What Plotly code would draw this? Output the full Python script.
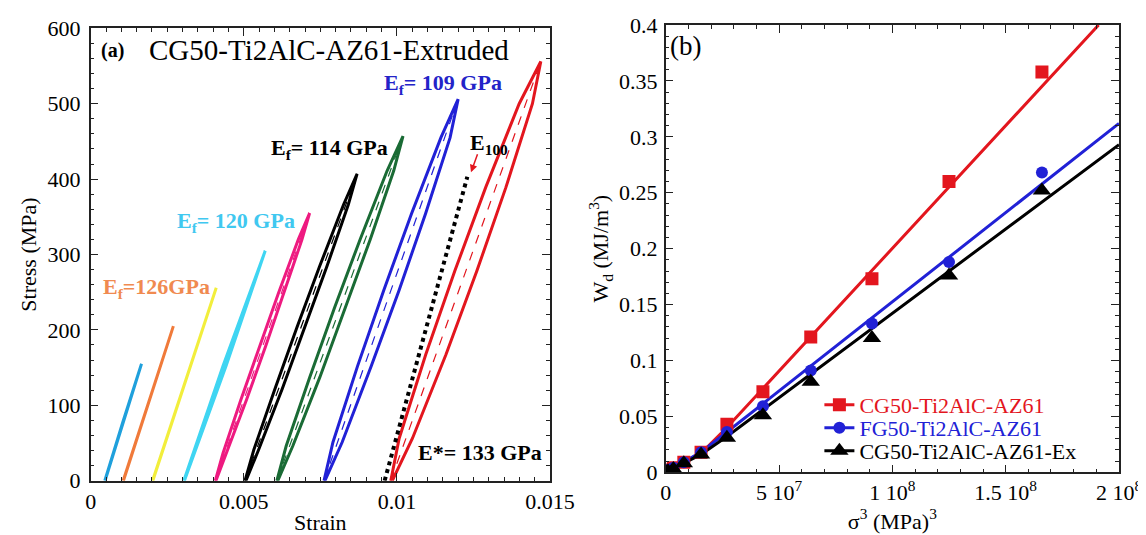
import plotly.graph_objects as go

# ---------------- Panel (a): cyclic stress-strain loops ----------------
loop_colors = ["#1fa0dc", "#f07a3a", "#f2ee3c", "#3fd5f2", "#ee1a80",
               "#000000", "#1a6b35", "#2121d6", "#e3161e"]

stress_1 = [0, 78, 155]
load_1 = [0.00046, 0.00105, 0.00166]
unload_1 = [0.00166, 0.00107, 0.00047]

stress_2 = [0, 102, 205]
load_2 = [0.00106, 0.00187, 0.0027]
unload_2 = [0.0027, 0.00189, 0.00107]

stress_3 = [0, 128, 256]
load_3 = [0.00202, 0.00305, 0.0041]
unload_3 = [0.0041, 0.00307, 0.00203]

stress_4 = [0, 152, 305]
load_4 = [0.00304, 0.00432, 0.0057]
unload_4 = [0.0057, 0.00442, 0.00306]

stress_5 = [0, 36, 107, 178, 249, 320, 355]
load_5 = [0.00407, 0.004318, 0.004902, 0.00551, 0.006134, 0.006782, 0.00715]
unload_5 = [0.00715, 0.006902, 0.006318, 0.00571, 0.005086, 0.004438, 0.00409]

stress_6 = [0, 41, 122, 204, 285, 366, 407]
load_6 = [0.00504, 0.005328, 0.006019, 0.00674, 0.007483, 0.008256, 0.0087]
unload_6 = [0.0087, 0.008412, 0.007721, 0.007, 0.006257, 0.005484, 0.00507]

stress_7 = [0, 46, 137, 229, 320, 411, 457]
load_7 = [0.00608, 0.006384, 0.007151, 0.00796, 0.008799, 0.00968, 0.0102]
unload_7 = [0.0102, 0.009896, 0.009129, 0.00832, 0.007481, 0.0066, 0.00611]

stress_8 = [0, 51, 152, 253, 354, 455, 506]
load_8 = [0.00762, 0.007912, 0.008715, 0.009575, 0.010477, 0.011437, 0.0120]
unload_8 = [0.0120, 0.011737, 0.010935, 0.010075, 0.009163, 0.008212, 0.00765]

stress_9 = [0, 56, 167, 278, 389, 500, 556]
load_9 = [0.0098, 0.010074, 0.01094, 0.01189, 0.0129, 0.013994, 0.0147]
unload_9 = [0.0147, 0.014426, 0.01356, 0.01261, 0.0116, 0.010506, 0.00985]

loops = [(stress_1, load_1, unload_1), (stress_2, load_2, unload_2),
         (stress_3, load_3, unload_3), (stress_4, load_4, unload_4),
         (stress_5, load_5, unload_5), (stress_6, load_6, unload_6),
         (stress_7, load_7, unload_7), (stress_8, load_8, unload_8),
         (stress_9, load_9, unload_9)]

# E100 dotted line
e100_strain = [0.0096, 0.0123]
e100_stress = [0, 403]

# ---------------- Panel (b): dissipated energy vs sigma^3 ----------------
sig3_cg = [1.25e5, 1.0e6, 3.4e6, 8.0e6, 1.56e7, 2.7e7, 4.29e7, 6.4e7, 9.1e7, 1.25e8, 1.66e8]
wd_cg = [0.0, 0.002, 0.004, 0.009, 0.018, 0.043, 0.072, 0.121, 0.173, 0.260, 0.358]
sig3_fg = [1.25e5, 1.0e6, 3.4e6, 8.0e6, 1.56e7, 2.7e7, 4.29e7, 6.4e7, 9.1e7, 1.25e8, 1.66e8]
wd_fg = [0.0, 0.002, 0.004, 0.009, 0.018, 0.036, 0.059, 0.091, 0.133, 0.188, 0.268]
sig3_ex = [1.25e5, 1.0e6, 3.4e6, 8.0e6, 1.56e7, 2.7e7, 4.29e7, 6.4e7, 9.1e7, 1.25e8, 1.66e8]
wd_ex = [0.0, 0.001, 0.003, 0.008, 0.016, 0.031, 0.051, 0.081, 0.120, 0.176, 0.252]

fit_cg_x = [0, 1.56e7, 2.7e7, 1.91e8]
fit_cg_y = [0, 0.017, 0.040, 0.400]
fit_fg_x = [0, 1.56e7, 2.7e7, 2.0e8]
fit_fg_y = [0, 0.018, 0.036, 0.312]
fit_ex_x = [0, 1.56e7, 2.7e7, 2.0e8]
fit_ex_y = [0, 0.016, 0.032, 0.293]

x1_tickvals = [0, 0.005, 0.01, 0.015]
x1_ticktext = ["0", "0.005", "0.01", "0.015"]
x2_tickvals = [0, 5e7, 1e8, 1.5e8, 2e8]
x2_ticktext = ["0", "5 10<sup>7</sup>", "1 10<sup>8</sup>", "1.5 10<sup>8</sup>", "2 10<sup>8</sup>"]
y2_tickvals = [0, 0.05, 0.1, 0.15, 0.2, 0.25, 0.3, 0.35, 0.4]
y2_ticktext = ["0", "0.05", "0.1", "0.15", "0.2", "0.25", "0.3", "0.35", "0.4"]

FONT = "Liberation Serif, Times New Roman, serif"
fig = go.Figure()

for i, (s, ld, ul) in enumerate(loops):
    c = loop_colors[i]
    fig.add_trace(go.Scatter(x=ld + ul[1:], y=s + s[::-1][1:], mode="lines",
                             line=dict(color=c, width=3),
                             xaxis="x", yaxis="y", showlegend=False, hoverinfo="skip"))
    if i >= 4:
        fig.add_trace(go.Scatter(x=[ld[0], ld[-1]], y=[s[0], s[-1]], mode="lines",
                                 line=dict(color=c, width=1.2, dash="dash"),
                                 xaxis="x", yaxis="y", showlegend=False, hoverinfo="skip"))

fig.add_trace(go.Scatter(x=e100_strain, y=e100_stress, mode="lines",
                         line=dict(color="black", width=4, dash="dot"),
                         xaxis="x", yaxis="y", showlegend=False))

# Panel b
series = [
    ("CG50-Ti2AlC-AZ61", "#e3161e", "square", 13, sig3_cg, wd_cg, fit_cg_x, fit_cg_y, "legend"),
    ("FG50-Ti2AlC-AZ61", "#2121d6", "circle", 12, sig3_fg, wd_fg, fit_fg_x, fit_fg_y, "legend2"),
    ("CG50-Ti2AlC-AZ61-Ex", "#000000", "triangle-up", 16, sig3_ex, wd_ex, fit_ex_x, fit_ex_y, "legend3"),
]
for name, c, sym, sz, xs, ys, fx, fy, lg in series:
    fig.add_trace(go.Scatter(x=fx, y=fy, mode="lines", line=dict(color=c, width=3),
                             xaxis="x2", yaxis="y2", showlegend=False))
for name, c, sym, sz, xs, ys, fx, fy, lg in series:
    fig.add_trace(go.Scatter(x=xs, y=ys, mode="markers",
                             marker=dict(color=c, symbol=sym, size=sz),
                             xaxis="x2", yaxis="y2", showlegend=False))
for name, c, sym, sz, xs, ys, fx, fy, lg in series:
    fig.add_trace(go.Scatter(x=[None], y=[None], mode="lines+markers",
                             line=dict(color=c, width=3),
                             marker=dict(color=c, symbol=sym, size=sz),
                             name='<span style="color:%s">%s</span>' % (c, name),
                             legend=lg, xaxis="x2", yaxis="y2", showlegend=True))

axis_common = dict(showline=True, linecolor="#222", linewidth=1.5, mirror="allticks",
                   ticks="inside", ticklen=8, tickwidth=1.2, tickcolor="#222",
                   showgrid=False, zeroline=False, automargin=False,
                   tickfont=dict(family=FONT, size=22, color="black"))

W, H = 1138, 527  # page body has an 8px margin inside the 1146x535 window

def leg(yc):
    return dict(x=0.713, y=yc, xanchor="left", yanchor="middle",
                bgcolor="rgba(0,0,0,0)", font=dict(family=FONT, size=22),
                itemwidth=30)

fig.update_layout(
    width=W, height=H, margin=dict(l=0, r=0, t=0, b=0),
    paper_bgcolor="white", plot_bgcolor="white",
    font=dict(family=FONT, color="black"),
    xaxis=dict(domain=[0.07267, 0.47627], range=[0, 0.015], anchor="y",
               tickvals=x1_tickvals, ticktext=x1_ticktext,
               minor=dict(dtick=0.0005, ticklen=4, ticks="inside", tickcolor="#222"),
               title=dict(text="Strain", font=dict(family=FONT, size=22), standoff=2),
               **axis_common),
    yaxis=dict(domain=[0.10304, 0.96148], range=[0, 600], anchor="x", dtick=100,
               minor=dict(dtick=20, ticklen=4, ticks="inside", tickcolor="#222"),
               title=dict(text="Stress (MPa)", font=dict(family=FONT, size=22), standoff=5),
               ticklabelstandoff=4,
               **axis_common),
    xaxis2=dict(domain=[0.57794, 0.97627], range=[0, 2e8], anchor="y2",
                tickvals=x2_tickvals, ticktext=x2_ticktext,
                minor=dict(dtick=1e7, ticklen=4, ticks="inside", tickcolor="#222"),
                title=dict(text="σ<sup>3</sup> (MPa)<sup>3</sup>", font=dict(family=FONT, size=22), standoff=2),
                **axis_common),
    yaxis2=dict(domain=[0.11898, 0.96774], range=[0, 0.4], anchor="x2",
                tickvals=y2_tickvals, ticktext=y2_ticktext,
                minor=dict(dtick=0.01, ticklen=4, ticks="inside", tickcolor="#222"),
                title=dict(text="W<sub>d</sub> (MJ/m<sup>3</sup>)", font=dict(family=FONT, size=22), standoff=4),
                ticklabelstandoff=2,
                **axis_common),
    legend=leg(0.2467), legend2=leg(0.2030), legend3=leg(0.1594),
)

ann = []
def A(text, x, y, color="black", size=21, bold=True, xref="x", yref="y", xanchor="left"):
    t = "<b>%s</b>" % text if bold else text
    ann.append(dict(text=t, x=x, y=y, xref=xref, yref=yref, showarrow=False,
                    xanchor=xanchor, yanchor="middle",
                    font=dict(family=FONT, size=size, color=color)))

A("(a)", 0.00027, 571, size=20)
A("CG50-Ti2AlC-AZ61-Extruded", 0.00184, 571, size=29, bold=False)
A("E<sub>f</sub>= 109 GPa", 0.00951, 526, color="#2323c8", size=22)
A("E<sub>f</sub>= 114 GPa", 0.00582, 440, size=22)
A("E<sub>f</sub>= 120 GPa", 0.00275, 343, color="#40c8f0", size=22)
A("E<sub>f</sub>=126GPa", 0.00034, 255, color="#f08a50", size=22)
A("E<sub>100</sub>", 0.01232, 446, size=22)
A("E*= 133 GPa", 0.01062, 38, size=22)
A("(b)", 0.1e7, 0.381, size=27, bold=False, xref="x2", yref="y2")
fig.update_layout(annotations=ann)

fig.add_annotation(x=0.01242, y=409, ax=0.01265, ay=435, xref="x", yref="y",
                   axref="x", ayref="y", showarrow=True, arrowhead=2,
                   arrowsize=1, arrowwidth=1.5, arrowcolor="#e3161e", text="")

fig.write_html("out.html")
